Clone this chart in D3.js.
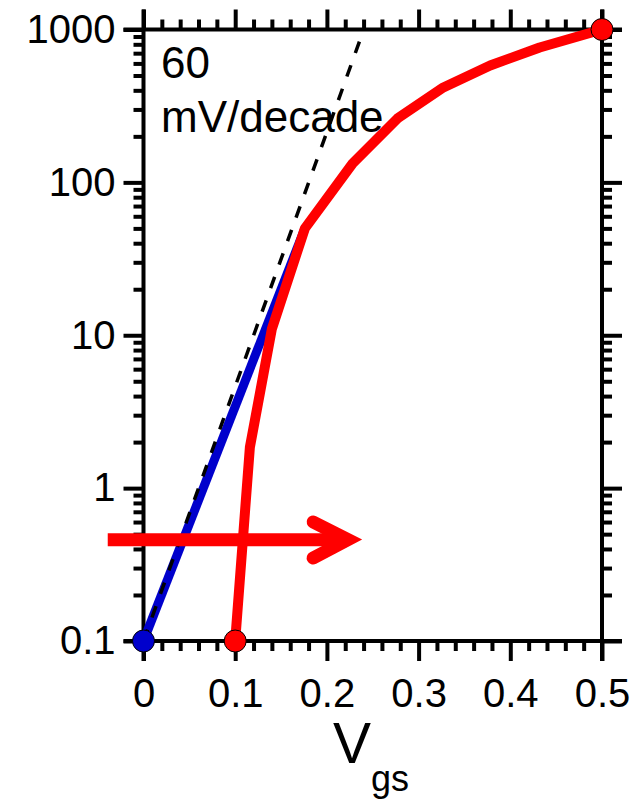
<!DOCTYPE html>
<html>
<head>
<meta charset="utf-8">
<script src="https://cdn.jsdelivr.net/npm/d3@7"></script>
<style>
  html, body { margin: 0; padding: 0; background: #fff; }
  svg { display: block; }
  text { font-family: "Liberation Sans", Arial, sans-serif; fill: #000; }
</style>
</head>
<body>
<svg id="chart" width="638" height="802"></svg>
<script>
// Gate voltage (V) and drain current (arbitrary units, log axis)
const blueVgs = [0, 0.176];
const blueId  = [0.1, 50];

const redVgs = [0.1, 0.116, 0.140, 0.176, 0.228, 0.277, 0.327, 0.378, 0.432, 0.5];
const redId  = [0.1, 1.85, 11, 50, 133, 262, 418, 582, 763, 1000];

// ideal 60 mV/decade subthreshold slope
const slopeVgs = [0, 0.236];
const slopeId  = [0.1, 850];

// end markers
const blueMarkVgs = [0];
const blueMarkId  = [0.1];
const redMarkVgs  = [0.1, 0.5];
const redMarkId   = [0.1, 1000];

// shift arrow (data units)
const arrowVgs = [-0.039, 0.223];
const arrowHeadVgs = 0.185;
const arrowId = 0.46;
const arrowHeadId = [0.6, 0.349];

const xTicks = [0, 0.1, 0.2, 0.3, 0.4, 0.5];
const xTickLabels = ["0", "0.1", "0.2", "0.3", "0.4", "0.5"];
const yTicks = [0.1, 1, 10, 100, 1000];
const yTickLabels = ["0.1", "1", "10", "100", "1000"];

const x = d3.scaleLinear().domain([0, 0.5]).range([143.5, 602]);
const y = d3.scaleLog().domain([0.1, 1000]).range([641, 29.5]);

const svg = d3.select("#chart");

const xMinor = d3.range(1, 25).map(i => i * 0.02).filter(v => Math.abs(v * 10 - Math.round(v * 10)) > 1e-6);
const yMinor = y.ticks().filter(v => !yTicks.some(t => Math.abs(t - v) < 1e-9));

const major = 20, minor = 10, tw = 4;

function styleAxis(g) {
  g.select(".domain").remove();
  g.selectAll(".tick line").attr("stroke", "#000").attr("stroke-width", tw);
}

// bottom axis
svg.append("g").attr("transform", `translate(0,${y(0.1)})`)
  .call(d3.axisBottom(x).tickValues(xMinor).tickSize(minor).tickFormat(""))
  .call(styleAxis);
const xb = svg.append("g").attr("transform", `translate(0,${y(0.1)})`)
  .call(d3.axisBottom(x).tickValues(xTicks).tickSize(major).tickPadding(18)
    .tickFormat((d, i) => xTickLabels[i]))
  .call(styleAxis);
xb.selectAll("text").attr("font-size", 40).attr("font-family", "Liberation Sans, Arial, sans-serif");

// top axis
svg.append("g").attr("transform", `translate(0,${y(1000)})`)
  .call(d3.axisTop(x).tickValues(xMinor).tickSize(minor).tickFormat(""))
  .call(styleAxis);
svg.append("g").attr("transform", `translate(0,${y(1000)})`)
  .call(d3.axisTop(x).tickValues(xTicks).tickSize(major).tickFormat(""))
  .call(styleAxis);

// left axis
svg.append("g").attr("transform", `translate(${x(0)},0)`)
  .call(d3.axisLeft(y).tickValues(yMinor).tickSize(minor).tickFormat(""))
  .call(styleAxis);
const yl = svg.append("g").attr("transform", `translate(${x(0)},0)`)
  .call(d3.axisLeft(y).tickValues(yTicks).tickSize(major).tickPadding(8)
    .tickFormat((d, i) => yTickLabels[i]))
  .call(styleAxis);
yl.selectAll("text").attr("font-size", 40).attr("font-family", "Liberation Sans, Arial, sans-serif");

// right axis
svg.append("g").attr("transform", `translate(${x(0.5)},0)`)
  .call(d3.axisRight(y).tickValues(yMinor).tickSize(minor).tickFormat(""))
  .call(styleAxis);
svg.append("g").attr("transform", `translate(${x(0.5)},0)`)
  .call(d3.axisRight(y).tickValues(yTicks).tickSize(major).tickFormat(""))
  .call(styleAxis);

// frame lines, each running past the corners by a major tick length
const frame = svg.append("g").attr("stroke", "#000").attr("stroke-width", tw).attr("stroke-linecap", "butt");
frame.append("line").attr("x1", x(0) - major).attr("x2", x(0.5) + major).attr("y1", y(0.1)).attr("y2", y(0.1));
frame.append("line").attr("x1", x(0) - major).attr("x2", x(0.5) + major).attr("y1", y(1000)).attr("y2", y(1000));
frame.append("line").attr("x1", x(0)).attr("x2", x(0)).attr("y1", y(1000) - major).attr("y2", y(0.1) + major);
frame.append("line").attr("x1", x(0.5)).attr("x2", x(0.5)).attr("y1", y(1000) - major).attr("y2", y(0.1) + major);

// annotation
const note = svg.append("text").attr("font-size", 44);
note.append("tspan").attr("x", 161).attr("y", 78).text("60");
note.append("tspan").attr("x", 161).attr("y", 132).text("mV/decade");

// axis title
const title = svg.append("text").attr("x", 333).attr("y", 763).attr("text-anchor", "start");
title.append("tspan").attr("font-size", 57).text("V");
title.append("tspan").attr("font-size", 36).attr("dy", 28).text("gs");

const line = d3.line().x(d => x(d[0])).y(d => y(d[1]));

// blue curve
svg.append("path")
  .datum(blueVgs.map((v, i) => [v, blueId[i]]))
  .attr("d", line).attr("fill", "none").attr("stroke", "#0000cc").attr("stroke-width", 9);

// 60 mV/decade reference
svg.append("path")
  .datum(slopeVgs.map((v, i) => [v, slopeId[i]]))
  .attr("d", line).attr("fill", "none").attr("stroke", "#000").attr("stroke-width", 3.5)
  .attr("stroke-dasharray", "12,13");

// red curve
svg.append("path")
  .datum(redVgs.map((v, i) => [v, redId[i]]))
  .attr("d", line).attr("fill", "none").attr("stroke", "#ff0000").attr("stroke-width", 10)
  .attr("stroke-linejoin", "round");

// arrow
const arrow = svg.append("g").attr("stroke", "#ff0000").attr("fill", "none").attr("stroke-width", 13);
arrow.append("line")
  .attr("x1", x(arrowVgs[0])).attr("x2", x(arrowVgs[1]))
  .attr("y1", y(arrowId)).attr("y2", y(arrowId));
arrow.append("path")
  .attr("stroke-linecap", "round").attr("stroke-linejoin", "miter").attr("stroke-miterlimit", 10)
  .attr("d", line([[arrowHeadVgs, arrowHeadId[0]], [arrowVgs[1], arrowId], [arrowHeadVgs, arrowHeadId[1]]]));

// markers
svg.append("g").selectAll("circle")
  .data(blueMarkVgs.map((v, i) => [v, blueMarkId[i]]))
  .join("circle")
  .attr("cx", d => x(d[0])).attr("cy", d => y(d[1])).attr("r", 11)
  .attr("fill", "#0000cc").attr("stroke", "#000").attr("stroke-width", 1);
svg.append("g").selectAll("circle")
  .data(redMarkVgs.map((v, i) => [v, redMarkId[i]]))
  .join("circle")
  .attr("cx", d => x(d[0])).attr("cy", d => y(d[1])).attr("r", 11)
  .attr("fill", "#ff0000").attr("stroke", "#000").attr("stroke-width", 1);
</script>
</body>
</html>
